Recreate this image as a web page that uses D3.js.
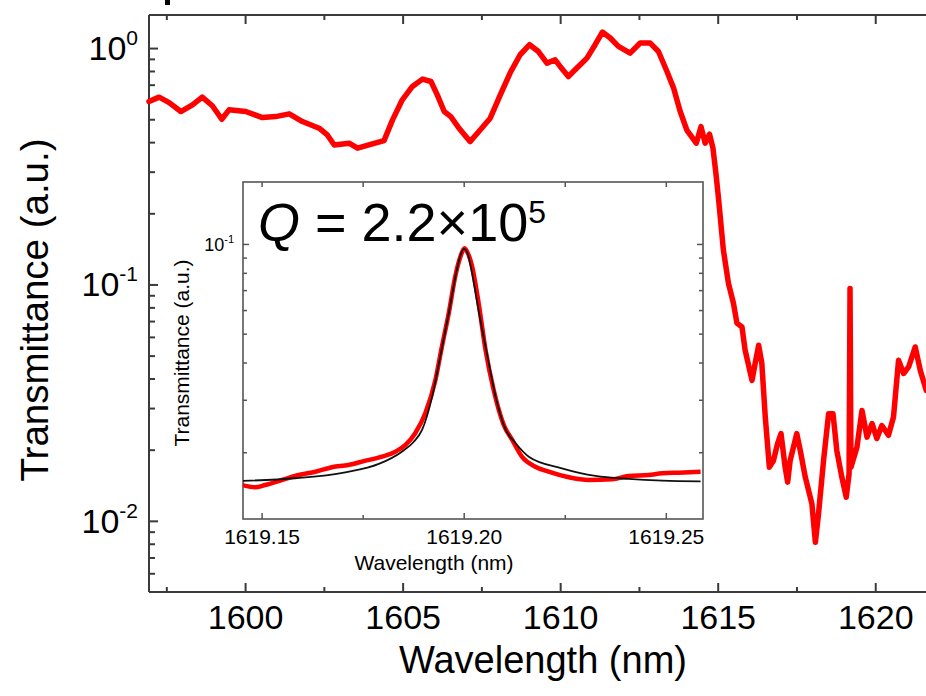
<!DOCTYPE html>
<html><head><meta charset="utf-8">
<script src="https://cdn.jsdelivr.net/npm/d3@7"></script>
<style>
html,body{margin:0;padding:0;background:#fff;overflow:hidden}
text{font-family:"Liberation Sans",Arial,Helvetica,sans-serif;fill:#000}
</style></head>
<body><svg id="c" width="926" height="696"></svg>
<script>
// ---------- data ----------
const mainWavelength = [1596.95,1597.27,1597.59,1597.96,1598.33,1598.64,1598.96,1599.26,1599.49,1600.02,1600.55,1600.97,1601.40,1601.82,1602.35,1602.61,1602.83,1603.30,1603.57,1604.04,1604.41,1604.68,1604.99,1605.31,1605.63,1605.90,1606.10,1606.32,1606.53,1606.79,1607.14,1607.46,1607.78,1608.10,1608.41,1608.73,1609.03,1609.31,1609.58,1609.84,1610.00,1610.26,1610.53,1610.85,1611.11,1611.34,1611.59,1611.85,1612.22,1612.54,1612.86,1613.12,1613.39,1613.60,1613.81,1614.02,1614.32,1614.47,1614.60,1614.74,1614.85,1614.95,1615.03,1615.18,1615.34,1615.50,1615.61,1615.77,1615.87,1616.09,1616.19,1616.30,1616.40,1616.51,1616.64,1616.77,1616.90,1617.01,1617.14,1617.22,1617.30,1617.51,1617.62,1617.78,1617.99,1618.10,1618.20,1618.36,1618.52,1618.66,1618.78,1618.94,1619.08,1619.17,1619.20,1619.23,1619.42,1619.58,1619.74,1619.90,1620.05,1620.21,1620.42,1620.58,1620.74,1620.90,1621.06,1621.27,1621.43,1621.62];
const mainTransmittance = [0.594,0.620,0.588,0.539,0.575,0.620,0.570,0.500,0.548,0.539,0.508,0.513,0.527,0.489,0.458,0.429,0.389,0.396,0.377,0.393,0.406,0.497,0.604,0.688,0.739,0.722,0.634,0.539,0.513,0.458,0.402,0.450,0.505,0.634,0.784,0.937,1.033,0.967,0.864,0.892,0.836,0.758,0.823,0.907,1.033,1.169,1.103,1.016,0.952,1.050,1.050,0.967,0.796,0.677,0.539,0.450,0.396,0.465,0.396,0.432,0.377,0.290,0.228,0.140,0.1013,0.0833,0.0686,0.0661,0.0527,0.0393,0.0464,0.0553,0.0464,0.0275,0.01687,0.0180,0.0212,0.0234,0.01687,0.01458,0.0180,0.0234,0.01986,0.01530,0.01180,0.00811,0.01071,0.0180,0.0284,0.0284,0.01986,0.01530,0.01259,0.0158,0.0962,0.01687,0.0205,0.0293,0.0226,0.0258,0.0223,0.0253,0.0230,0.0275,0.0478,0.0420,0.0448,0.0544,0.0433,0.0356];

const insetWavelength = [1619.1451,1619.1484,1619.1509,1619.1550,1619.1592,1619.1633,1619.1674,1619.1715,1619.1757,1619.1798,1619.1831,1619.1856,1619.1880,1619.1905,1619.1930,1619.1946,1619.1963,1619.1979,1619.1992,1619.2002,1619.2012,1619.2020,1619.2037,1619.2054,1619.2074,1619.2099,1619.2120,1619.2144,1619.2177,1619.2210,1619.2260,1619.2309,1619.2367,1619.2408,1619.2458,1619.2491,1619.2532,1619.2586];
const insetTransmittance = [0.01553,0.01525,0.01553,0.01614,0.01678,0.01721,0.01781,0.01813,0.01874,0.01933,0.02009,0.02116,0.02316,0.02703,0.03497,0.04521,0.05853,0.0777,0.0907,0.0967,0.0920,0.0850,0.0632,0.0441,0.0324,0.0247,0.0220,0.01933,0.01789,0.01721,0.01648,0.01614,0.01623,0.01665,0.01678,0.01700,0.01708,0.01721];

const fitWavelength = [1619.1451,1619.1583,1619.1707,1619.1790,1619.1847,1619.1876,1619.1897,1619.1922,1619.1942,1619.1963,1619.1983,1619.1993,1619.2001,1619.2010,1619.2019,1619.2038,1619.2059,1619.2079,1619.2104,1619.2126,1619.2161,1619.2243,1619.2326,1619.2408,1619.2491,1619.2586];
const fitTransmittance = [0.01602,0.01636,0.01713,0.01827,0.02009,0.02165,0.02376,0.03074,0.04185,0.05853,0.0818,0.0926,0.0962,0.0926,0.0818,0.05853,0.04185,0.03074,0.02376,0.02165,0.01933,0.01767,0.01665,0.01627,0.01606,0.01598];

const xMajorTicks = [1600,1605,1610,1615,1620];
const xMinorTicks = [1597.5,1602.5,1607.5,1612.5,1617.5,1622.5];
const yMajorExponents = [0,-1,-2];
const insetXMajor = [1619.15,1619.20,1619.25];
const insetXMinor = [1619.175,1619.225];
const insetYMajorExponents = [-1];
const qLabel = {base:"2.2×10", exp:"5"};

// ---------- layout ----------
const svg = d3.select("#c");
const M = {left:149, top:15, bottom:592, right:954};
const x = d3.scaleLinear().domain([1596.95,1622.5]).range([M.left,M.right]);
const y = d3.scaleLog().domain([0.005,1.38]).range([M.bottom,M.top]);

const spineColor = "#3a3a3a";
function minorLog(lo, hi){ // minor ticks 2..9 x decade within domain
  const out=[];
  for(let e=-4;e<=1;e++) for(let k=2;k<=9;k++){const v=k*Math.pow(10,e); if(v>lo&&v<hi) out.push(v);}
  return out;
}

// cropped panel-label remnant at top edge (only a sliver is visible in the reference)
svg.append("rect").attr("x",165).attr("y",0).attr("width",5).attr("height",5).attr("fill","#000");

// main axes
const gAx = svg.append("g");
function styleAxis(g){ g.select(".domain").remove(); g.selectAll("line").attr("stroke",spineColor).attr("stroke-width",2); }
gAx.append("g").attr("transform",`translate(0,${M.bottom})`)
  .call(d3.axisBottom(x).tickValues(xMajorTicks).tickSize(-9).tickPadding(13).tickFormat(d3.format("d")))
  .call(styleAxis).call(g=>g.selectAll("text").attr("font-size",34).attr("fill","#000").attr("dy","0.71em"));
gAx.append("g").attr("transform",`translate(0,${M.bottom})`)
  .call(d3.axisBottom(x).tickValues(xMinorTicks).tickSize(-5).tickFormat("")).call(styleAxis);
gAx.append("g").attr("transform",`translate(0,${M.top})`)
  .call(d3.axisTop(x).tickValues(xMajorTicks).tickSize(-9).tickFormat("")).call(styleAxis);
gAx.append("g").attr("transform",`translate(0,${M.top})`)
  .call(d3.axisTop(x).tickValues(xMinorTicks).tickSize(-5).tickFormat("")).call(styleAxis);
gAx.append("g").attr("transform",`translate(${M.left},0)`)
  .call(d3.axisLeft(y).tickValues(yMajorExponents.map(e=>Math.pow(10,e))).tickSize(-9).tickFormat("")).call(styleAxis);
gAx.append("g").attr("transform",`translate(${M.left},0)`)
  .call(d3.axisLeft(y).tickValues(minorLog(0.005,1.38)).tickSize(-6).tickFormat("")).call(styleAxis);
// spines
gAx.append("line").attr("x1",M.left).attr("x2",M.left).attr("y1",M.top).attr("y2",M.bottom).attr("stroke",spineColor).attr("stroke-width",2);
gAx.append("line").attr("x1",M.left).attr("x2",M.right).attr("y1",M.top).attr("y2",M.top).attr("stroke",spineColor).attr("stroke-width",2);
gAx.append("line").attr("x1",M.left).attr("x2",M.right).attr("y1",M.bottom).attr("y2",M.bottom).attr("stroke",spineColor).attr("stroke-width",2);

// y tick labels with superscripts
yMajorExponents.forEach(e=>{
  const t = svg.append("text").attr("x",138).attr("y",y(Math.pow(10,e))+12).attr("text-anchor","end").attr("font-size",34);
  t.append("tspan").text("10");
  t.append("tspan").attr("font-size",21).attr("dy",-15).text(String(e));
});

// axis titles
svg.append("text").attr("x",543).attr("y",673).attr("text-anchor","middle").attr("font-size",38).text("Wavelength (nm)");
svg.append("text").attr("transform","translate(48,310) rotate(-90)").attr("text-anchor","middle").attr("font-size",38.5).text("Transmittance (a.u.)");

// main curve
const mainPts = mainWavelength.map((w,i)=>[w,mainTransmittance[i]]);
svg.append("path").datum(mainPts)
  .attr("d", d3.line().x(d=>x(d[0])).y(d=>y(d[1])))
  .attr("fill","none").attr("stroke","#ff0000").attr("stroke-width",5.5)
  .attr("stroke-linejoin","round").attr("stroke-linecap","round");

// ---------- inset ----------
const I = {left:243, right:703, top:182, bottom:519};
const ix = d3.scaleLinear().domain([1619.1454,1619.2592]).range([I.left,I.right]);
const iy = d3.scaleLog().domain([0.01194,0.1614]).range([I.bottom,I.top]);
const ins = svg.append("g");
ins.append("rect").attr("x",I.left).attr("y",I.top).attr("width",I.right-I.left).attr("height",I.bottom-I.top).attr("fill","#fff");
svg.append("clipPath").attr("id","ic").append("rect").attr("x",I.left).attr("y",I.top).attr("width",I.right-I.left).attr("height",I.bottom-I.top);

const insColor="#555";
function styleI(g){ g.select(".domain").remove(); g.selectAll("line").attr("stroke",insColor).attr("stroke-width",1.5); }
ins.append("g").attr("transform",`translate(0,${I.bottom})`)
  .call(d3.axisBottom(ix).tickValues(insetXMajor).tickSize(-6).tickPadding(10).tickFormat(d3.format(".2f")))
  .call(styleI).call(g=>g.selectAll("text").attr("font-size",21).attr("fill","#222").attr("dy","0.71em"));
ins.append("g").attr("transform",`translate(0,${I.bottom})`)
  .call(d3.axisBottom(ix).tickValues(insetXMinor).tickSize(-4).tickFormat("")).call(styleI);
ins.append("g").attr("transform",`translate(0,${I.top})`)
  .call(d3.axisTop(ix).tickValues(insetXMajor.concat(insetXMinor)).tickSize(-5).tickFormat("")).call(styleI);
const iyMinor = minorLog(0.01194,0.1614);
[["L",I.left],["R",I.right]].forEach(([s,pos])=>{
  const ax = s==="L"?d3.axisLeft:d3.axisRight;
  ins.append("g").attr("transform",`translate(${pos},0)`)
    .call(ax(iy).tickValues(insetYMajorExponents.map(e=>Math.pow(10,e))).tickSize(-6).tickFormat("")).call(styleI);
  ins.append("g").attr("transform",`translate(${pos},0)`)
    .call(ax(iy).tickValues(iyMinor).tickSize(-4).tickFormat("")).call(styleI);
});
ins.append("rect").attr("x",I.left).attr("y",I.top).attr("width",I.right-I.left).attr("height",I.bottom-I.top)
  .attr("fill","none").attr("stroke",insColor).attr("stroke-width",1.6);

insetYMajorExponents.forEach(e=>{
  const t = ins.append("text").attr("x",234).attr("y",iy(Math.pow(10,e))+7).attr("text-anchor","end").attr("font-size",18).attr("fill","#222");
  t.append("tspan").text("10");
  t.append("tspan").attr("font-size",11).attr("dy",-8).text(String(e));
});
ins.append("text").attr("x",434).attr("y",570).attr("text-anchor","middle").attr("font-size",21).attr("fill","#222").text("Wavelength (nm)");
ins.append("text").attr("transform","translate(189,353) rotate(-90)").attr("text-anchor","middle").attr("font-size",21).attr("fill","#222").text("Transmittance (a.u.)");

const insPts = insetWavelength.map((w,i)=>[w,insetTransmittance[i]]);
const fitPts = fitWavelength.map((w,i)=>[w,fitTransmittance[i]]);
const il = d3.line().x(d=>ix(d[0])).y(d=>iy(d[1])).curve(d3.curveMonotoneX);
ins.append("path").datum(insPts).attr("clip-path","url(#ic)").attr("d",il)
  .attr("fill","none").attr("stroke","#ff0000").attr("stroke-width",4.5).attr("stroke-linejoin","round");
ins.append("path").datum(fitPts).attr("clip-path","url(#ic)").attr("d",il)
  .attr("fill","none").attr("stroke","#111").attr("stroke-width",1.8);

// Q label
const q = ins.append("text").attr("x",258).attr("y",241).attr("font-size",54);
q.append("tspan").attr("font-style","italic").text("Q");
q.append("tspan").text(" = "+qLabel.base);
q.append("tspan").attr("font-size",32).attr("dy",-18).text(qLabel.exp);
</script></body></html>
